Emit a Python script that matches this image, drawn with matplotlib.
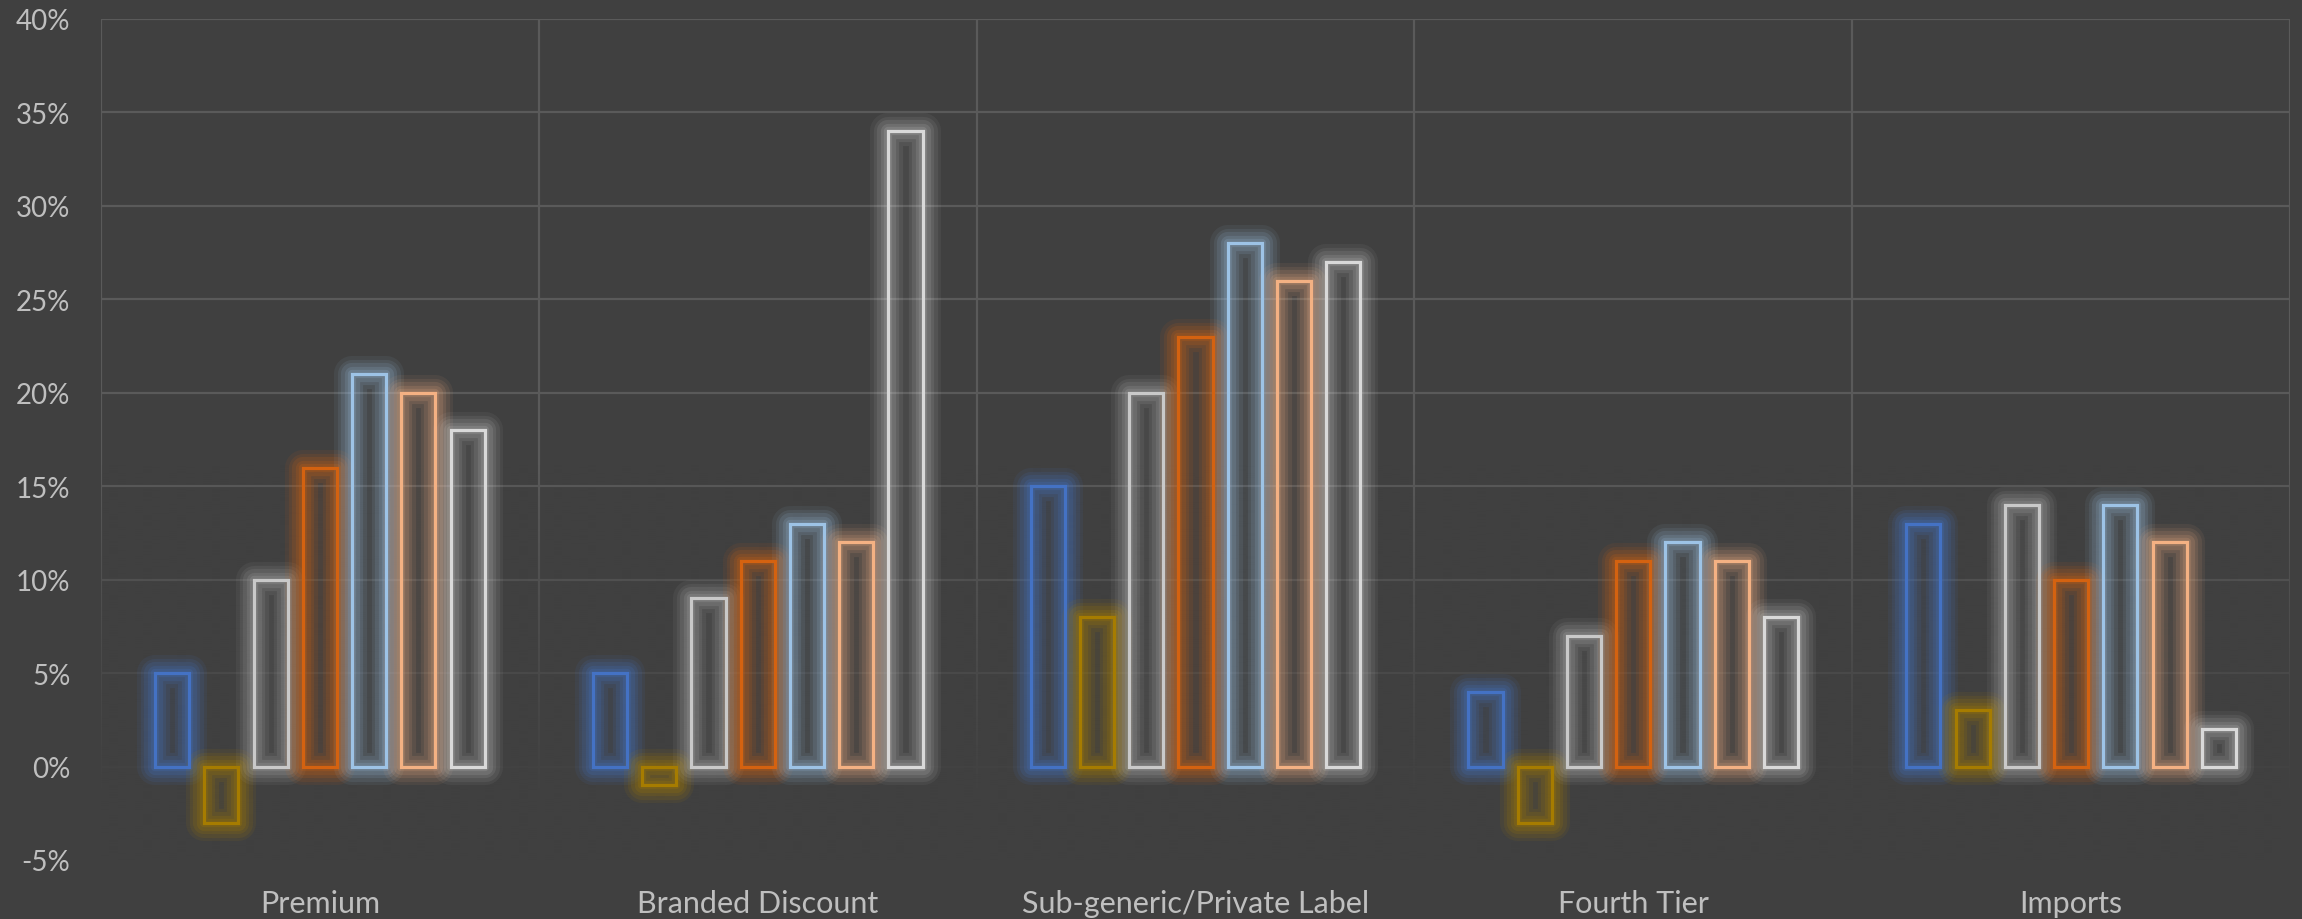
import matplotlib
matplotlib.use("Agg")
import matplotlib.pyplot as plt
import numpy as np
from matplotlib.patches import Rectangle
from matplotlib.ticker import FuncFormatter, MultipleLocator

categories = ["Premium", "Branded Discount", "Sub-generic/Private Label", "Fourth Tier", "Imports"]
series1 = [5, 5, 15, 4, 13]
series2 = [-3, -1, 8, -3, 3]
series3 = [10, 9, 20, 7, 14]
series4 = [16, 11, 23, 11, 10]
series5 = [21, 13, 28, 12, 14]
series6 = [20, 12, 26, 11, 12]
series7 = [18, 34, 27, 8, 2]
all_series = [series1, series2, series3, series4, series5, series6, series7]
colors = ["#4472C4", "#A67C00", "#C9C9C9", "#D46210", "#9DC3E6", "#F4B183", "#D9D9D9"]
glow_gain = [1.5, 1.5, 1.0, 1.4, 1.2, 1.2, 1.0]

BG = "#404040"
GRID = "#5A5A5A"
TXT = "#BFBFBF"

plt.rcParams['font.family'] = ['Lato', 'DejaVu Sans']

fig = plt.figure(figsize=(23.02, 9.2), dpi=100, facecolor=BG)
ax = fig.add_axes([101/2302, 1 - 861/920, (2290 - 101)/2302, (861 - 20)/920])
ax.set_facecolor(BG)

ax.set_xlim(-0.5, len(categories) - 0.5)
ax.set_ylim(-5, 40)

# grid
for y in range(-5, 41, 5):
    ax.axhline(y, color=GRID, lw=1.6, zorder=1)
for x in np.arange(-0.5, len(categories), 1.0):
    ax.axvline(x, color=GRID, lw=1.6, zorder=1)

# fade overlay for lower part of grid
n = 256
yy = np.linspace(0, 1, n)  # 0 bottom, 1 top
alpha = np.clip((0.47 - yy) / 0.40, 0, 1) ** 0.9
img = np.zeros((n, 1, 4))
bg_rgb = matplotlib.colors.to_rgb(BG)
img[..., 0] = bg_rgb[0]; img[..., 1] = bg_rgb[1]; img[..., 2] = bg_rgb[2]
img[:, 0, 3] = alpha[::-1]
ax.imshow(img, extent=[-0.5, len(categories) - 0.5, -5, 40], aspect='auto', zorder=1.5,
          origin='upper', interpolation='bilinear')

step = 0.1125
width = 0.078
nser = len(all_series)
for i, (vals, c) in enumerate(zip(all_series, colors)):
    off = (i - (nser - 1) / 2) * step
    g = glow_gain[i]
    for j, v in enumerate(vals):
        x0 = j + off - width / 2
        y0 = min(0, v)
        h = abs(v)
        for lw, a in [(26, 0.06), (21, 0.08), (16, 0.10), (11, 0.12), (6, 0.14)]:
            ax.add_patch(Rectangle((x0, y0), width, h, fill=False, edgecolor=c, lw=lw,
                                   alpha=min(1, a * g), joinstyle='round', zorder=3))
        ax.add_patch(Rectangle((x0, y0), width, h, fill=False, edgecolor=c, lw=2.3,
                               joinstyle='miter', zorder=4))

for s in ax.spines.values():
    s.set_visible(False)

ax.yaxis.set_major_locator(MultipleLocator(5))
ax.yaxis.set_major_formatter(FuncFormatter(lambda v, p: f"{int(round(v))}%"))
ax.set_xticks(range(len(categories)))
ax.set_xticklabels(categories)
ax.tick_params(axis='both', length=0, colors=TXT)
ax.tick_params(axis='y', pad=22, labelsize=20)
ax.tick_params(axis='x', pad=21, labelsize=22)

fig.savefig("out.png", dpi=100, facecolor=BG)
